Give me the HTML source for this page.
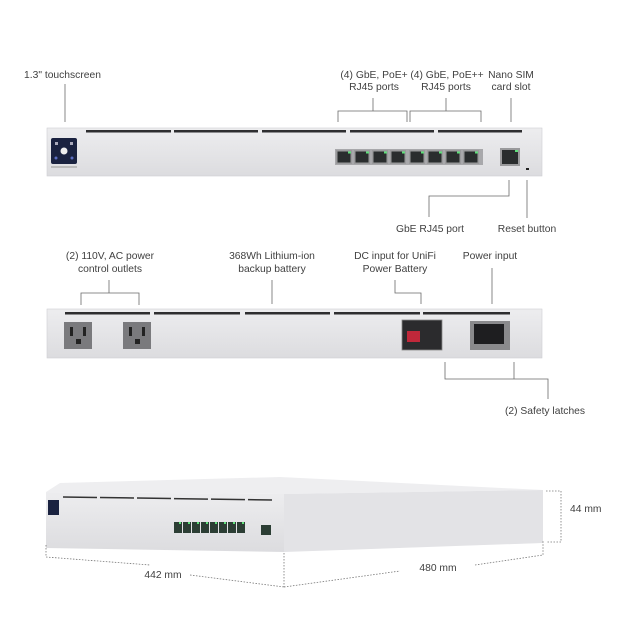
<!DOCTYPE html>
<html><head><meta charset="utf-8"><style>
html,body{margin:0;padding:0;background:#fff;}
body{width:620px;height:643px;overflow:hidden;position:relative;}
svg{position:absolute;left:0;top:0;}
text{font-family:"Liberation Sans",sans-serif;font-size:10.3px;fill:#404040;}
</style></head><body>
<svg width="620" height="643" viewBox="0 0 620 643">
<defs>
<linearGradient id="pg" x1="0" y1="0" x2="0" y2="1"><stop offset="0" stop-color="#ededef"/><stop offset="1" stop-color="#dcdcdf"/></linearGradient>
<g id="port"><rect x="0" y="0" width="16" height="14" fill="#9a9a9c"/><rect x="1.5" y="1.5" width="13" height="11" fill="#2a2d2e"/><rect x="12" y="1.5" width="3" height="2" fill="#5fe07a"/></g>
</defs>
<g stroke="#6a6a6a" stroke-width="0.8" fill="none">
<line x1="65" y1="84" x2="65" y2="122"/>
<polyline points="338,122 338,111 407,111 407,122"/><line x1="373" y1="98" x2="373" y2="111"/>
<polyline points="410,122 410,111 481,111 481,122"/><line x1="446" y1="98" x2="446" y2="111"/>
<line x1="511" y1="98" x2="511" y2="122"/>
<polyline points="509,180 509,196 429,196 429,217"/>
<line x1="527" y1="180" x2="527" y2="218"/>
<polyline points="81,305 81,293 139,293 139,305"/><line x1="109" y1="280" x2="109" y2="293"/>
<line x1="272" y1="280" x2="272" y2="304"/>
<polyline points="395,280 395,293 421,293 421,304"/>
<line x1="492" y1="268" x2="492" y2="304"/>
<polyline points="445,362 445,379 548,379 548,399"/><line x1="514" y1="362" x2="514" y2="379"/>
</g>
<g>
<text x="24" y="78">1.3" touchscreen</text>
<text x="374" y="78" text-anchor="middle">(4) GbE, PoE+</text><text x="374" y="90" text-anchor="middle">RJ45 ports</text>
<text x="447" y="78" text-anchor="middle">(4) GbE, PoE++</text><text x="446" y="90" text-anchor="middle">RJ45 ports</text>
<text x="511" y="78" text-anchor="middle">Nano SIM</text><text x="511" y="90" text-anchor="middle">card slot</text>
<text x="430" y="232" text-anchor="middle">GbE RJ45 port</text>
<text x="527" y="232" text-anchor="middle">Reset button</text>
<text x="110" y="259" text-anchor="middle">(2) 110V, AC power</text><text x="110" y="272" text-anchor="middle">control outlets</text>
<text x="272" y="259" text-anchor="middle">368Wh Lithium-ion</text><text x="272" y="272" text-anchor="middle">backup battery</text>
<text x="395" y="259" text-anchor="middle">DC input for UniFi</text><text x="395" y="272" text-anchor="middle">Power Battery</text>
<text x="490" y="259" text-anchor="middle">Power input</text>
<text x="545" y="414" text-anchor="middle">(2) Safety latches</text>
</g>
<rect x="47" y="128" width="495" height="48" fill="url(#pg)" stroke="#cfcfd2" stroke-width="0.6"/>
<g fill="#2e2e30"><rect x="86" y="130" width="85" height="2.5"/><rect x="174" y="130" width="84" height="2.5"/><rect x="262" y="130" width="84" height="2.5"/><rect x="350" y="130" width="84" height="2.5"/><rect x="438" y="130" width="84" height="2.5"/></g>
<rect x="51" y="138" width="26" height="26" rx="2" fill="#1a2240"/>
<circle cx="64" cy="151" r="3.5" fill="#eee"/><circle cx="56" cy="158" r="1.5" fill="#5a6cc0"/><circle cx="72" cy="158" r="1.5" fill="#5a6cc0"/><rect x="55" y="142" width="3" height="3" fill="#aab"/><rect x="70" y="142" width="3" height="3" fill="#aab"/>
<rect x="51" y="166" width="26" height="2" fill="#bbb"/>
<rect x="335" y="149" width="148" height="16" fill="#a8a8ab"/>
<use href="#port" x="336" y="150"/><use href="#port" x="354" y="150"/><use href="#port" x="372" y="150"/><use href="#port" x="390" y="150"/>
<use href="#port" x="409" y="150"/><use href="#port" x="427" y="150"/><use href="#port" x="445" y="150"/><use href="#port" x="463" y="150"/>
<rect x="500" y="148" width="20" height="18" fill="#9a9a9c"/><rect x="502" y="150" width="16" height="14" fill="#2a2d2e"/><rect x="515" y="150" width="3" height="2" fill="#5fe07a"/>
<rect x="526" y="168" width="3" height="2" fill="#222"/>
<rect x="47" y="309" width="495" height="49" fill="url(#pg)" stroke="#cfcfd2" stroke-width="0.6"/>
<g fill="#2e2e30"><rect x="65" y="312" width="85" height="2.5"/><rect x="154" y="312" width="86" height="2.5"/><rect x="245" y="312" width="85" height="2.5"/><rect x="334" y="312" width="86" height="2.5"/><rect x="423" y="312" width="87" height="2.5"/></g>
<g fill="#7a7a7d"><rect x="64" y="322" width="28" height="27"/><rect x="123" y="322" width="28" height="27"/></g>
<g fill="#222"><rect x="70" y="327" width="3" height="9"/><rect x="83" y="327" width="3" height="9"/><rect x="76" y="339" width="5" height="5"/><rect x="129" y="327" width="3" height="9"/><rect x="142" y="327" width="3" height="9"/><rect x="135" y="339" width="5" height="5"/></g>
<rect x="402" y="320" width="40" height="30" fill="#2b2b2d" stroke="#888" stroke-width="0.8"/>
<rect x="407" y="331" width="13" height="11" fill="#c0283a"/>
<rect x="470" y="321" width="40" height="29" fill="#8a8a8c"/><rect x="474" y="324" width="30" height="20" fill="#1e1e20"/>
<polygon points="46,492 60,483 280,477 543,490 284,494" fill="#eeeef0"/>
<polygon points="46,492 284,494 284,552 46,548" fill="url(#pg)"/>
<polygon points="284,494 543,490 543,543 284,552" fill="#e3e3e6"/>
<line x1="63" y1="497" x2="272" y2="500" stroke="#333" stroke-width="1.5" stroke-dasharray="34,3"/>
<rect x="48" y="500" width="11" height="15" fill="#1a2240"/>
<g fill="#2c3e34"><rect x="174" y="522" width="8" height="11"/><rect x="183" y="522" width="8" height="11"/><rect x="192" y="522" width="8" height="11"/><rect x="201" y="522" width="8" height="11"/><rect x="210" y="522" width="8" height="11"/><rect x="219" y="522" width="8" height="11"/><rect x="228" y="522" width="8" height="11"/><rect x="237" y="522" width="8" height="11"/></g>
<g fill="#5fe07a"><rect x="179" y="522" width="2" height="2"/><rect x="188" y="522" width="2" height="2"/><rect x="197" y="522" width="2" height="2"/><rect x="206" y="522" width="2" height="2"/><rect x="215" y="522" width="2" height="2"/><rect x="224" y="522" width="2" height="2"/><rect x="233" y="522" width="2" height="2"/><rect x="242" y="522" width="2" height="2"/></g>
<rect x="261" y="525" width="10" height="10" fill="#2c3e34"/>
<g stroke="#777" stroke-width="0.8" fill="none" stroke-dasharray="1.5,1.5">
<polyline points="546,491 561,491 561,542 546,542"/>
<polyline points="46,545 46,557 150,565"/><line x1="190" y1="575" x2="284" y2="587"/>
<line x1="284" y1="553" x2="284" y2="587"/>
<polyline points="284,587 400,571"/><polyline points="475,565 543,555 543,540"/>
</g>
<text x="570" y="512">44 mm</text>
<text x="163" y="578" text-anchor="middle">442 mm</text>
<text x="438" y="571" text-anchor="middle">480 mm</text>
</svg>
</body></html>
